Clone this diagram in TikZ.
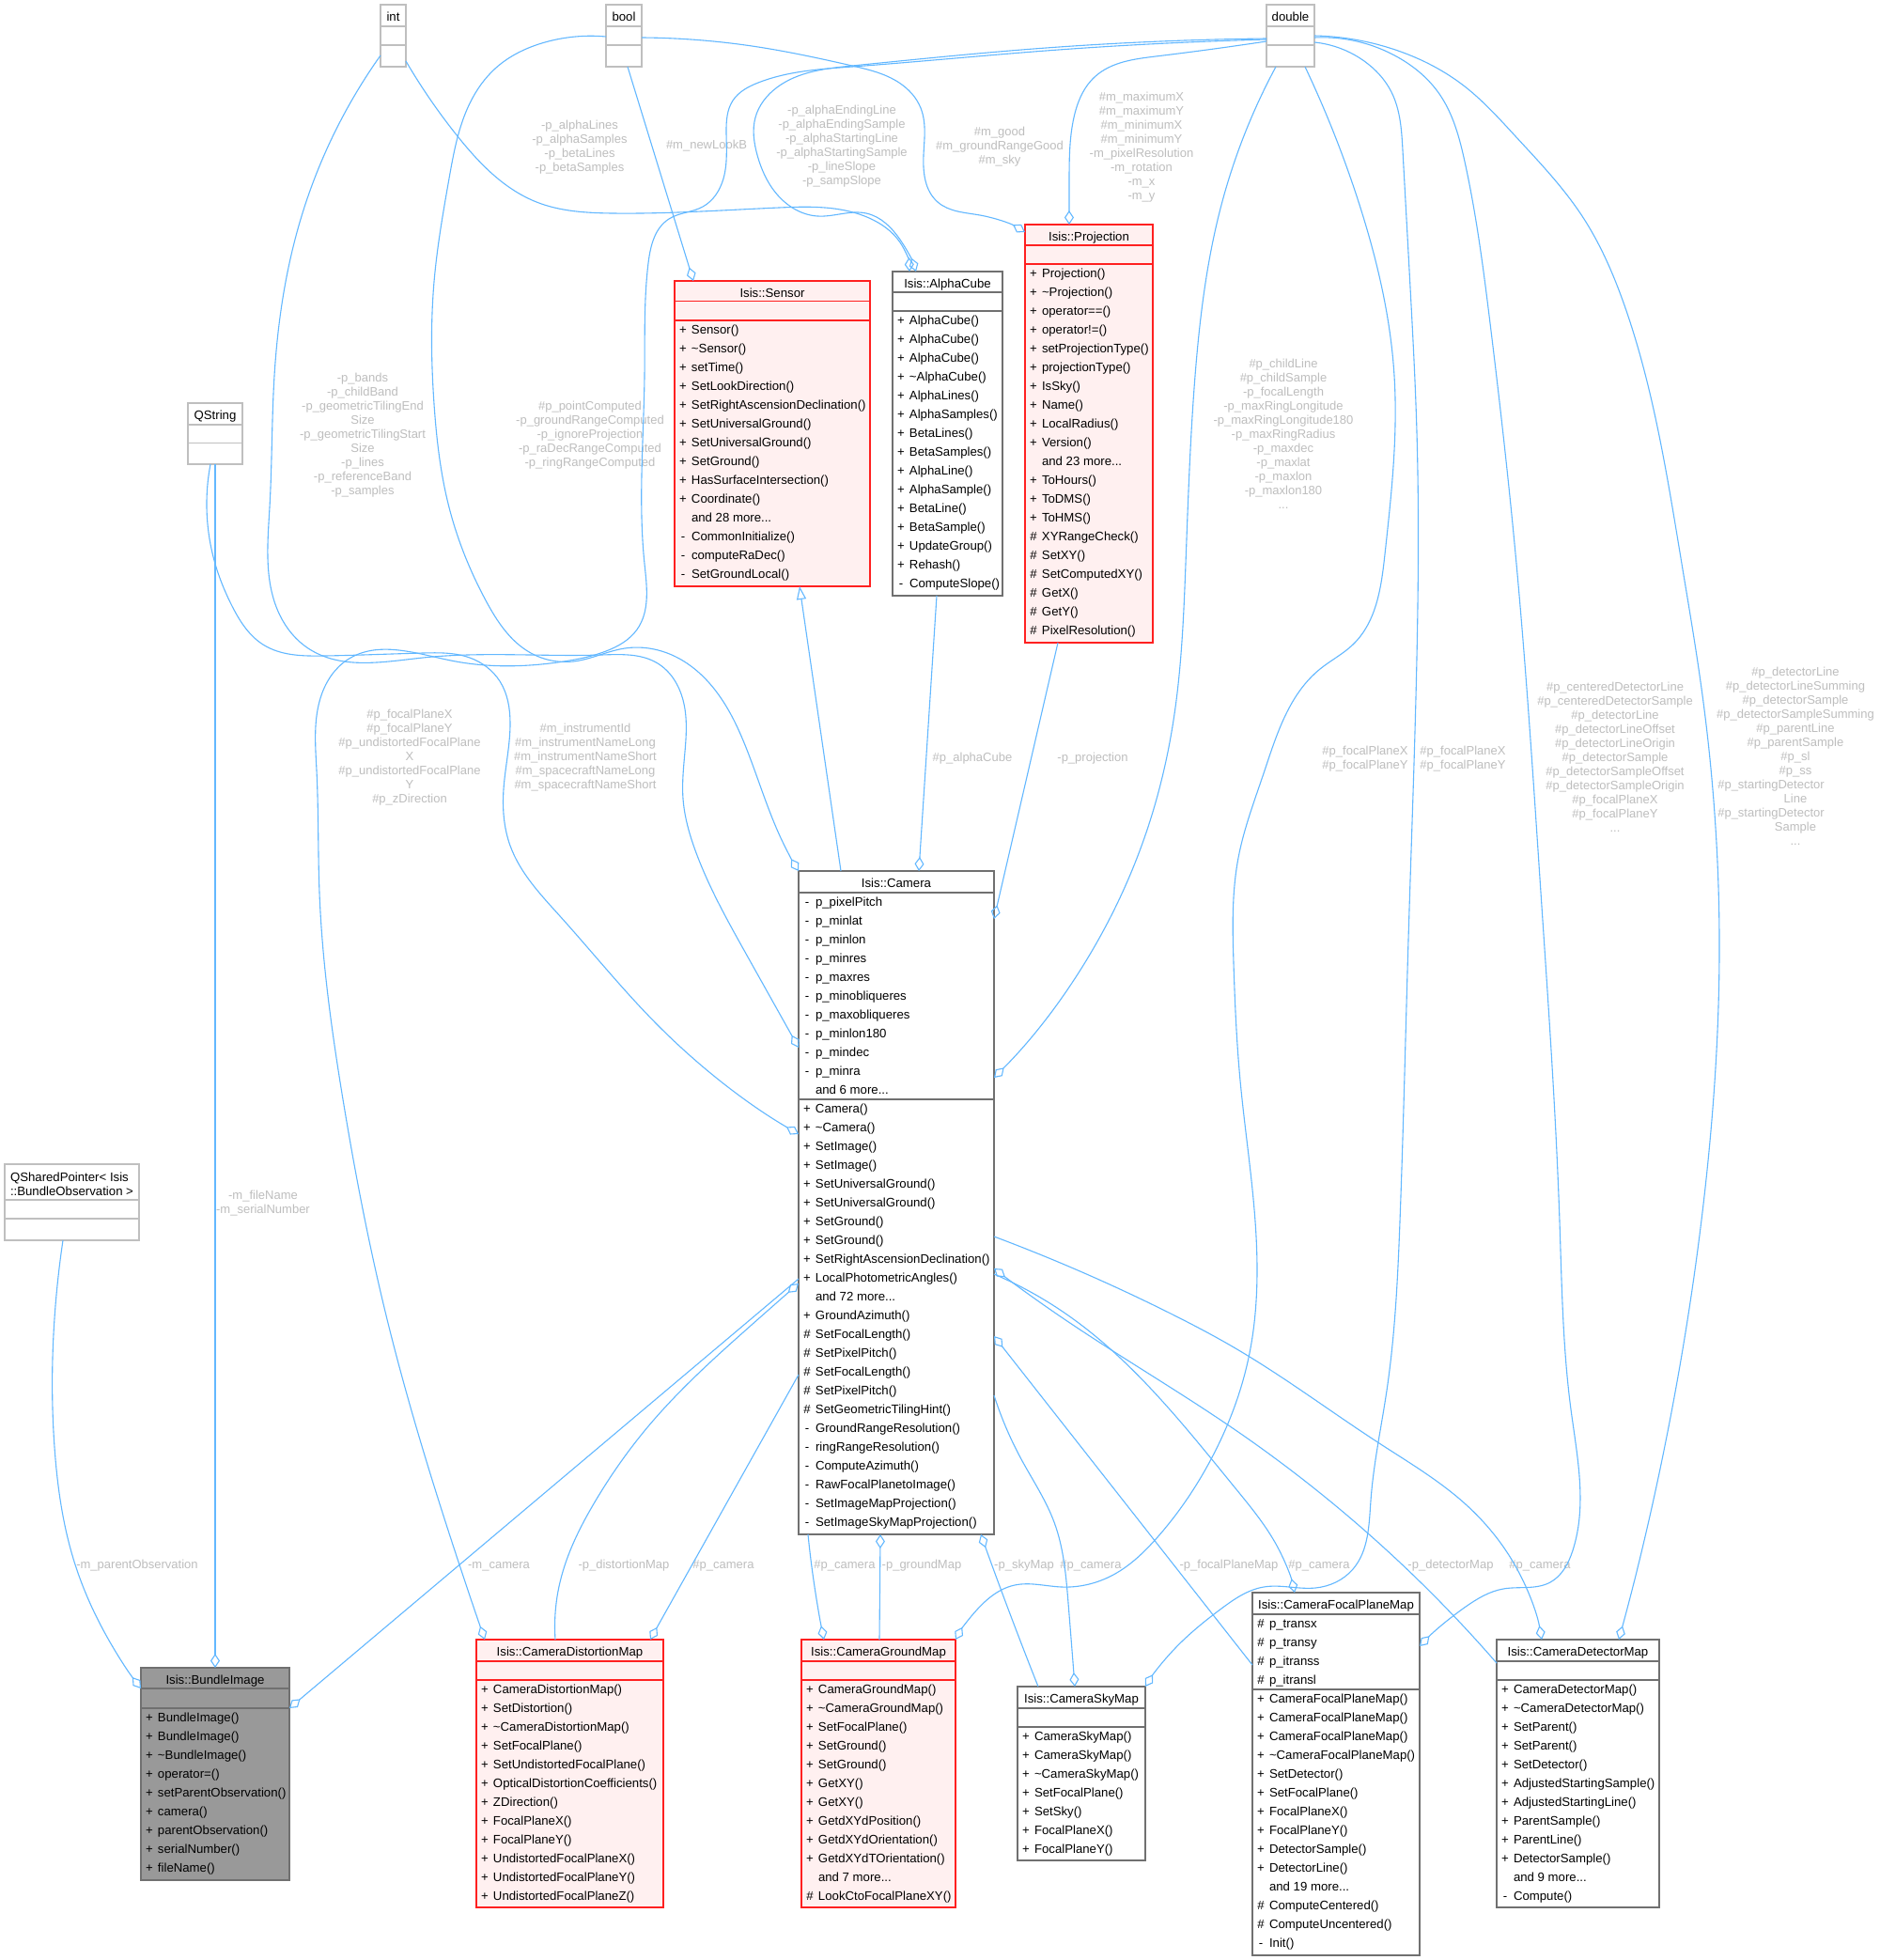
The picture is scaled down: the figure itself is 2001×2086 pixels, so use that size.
\documentclass[tikz,border=0pt]{standalone}
\usepackage{fontspec}
\setmainfont{Liberation Sans}
\usetikzlibrary{arrows.meta,hobby}
\definecolor{edgeblue}{HTML}{63B8FF}
\definecolor{lblgray}{HTML}{BEBEBE}
\definecolor{undocgray}{HTML}{BFBFBF}
\definecolor{docgray}{HTML}{707070}
\definecolor{truncred}{HTML}{FF2020}
\definecolor{truncfill}{HTML}{FFF0F0}
\definecolor{focusfill}{HTML}{999999}
\renewcommand{\arraystretch}{0}
\newcommand{\boxfont}{\fontsize{13.2}{20}\selectfont}
\newcommand{\labfont}{\fontsize{13}{15}\selectfont}
\newcommand{\mrow}[2]{\makebox[18pt][c]{#1}#2\rule[-5.6pt]{0pt}{20pt}\\}
\newcommand{\lline}[1]{#1\rule[-4pt]{0pt}{15pt}\\}
\tikzset{
  boxbase/.style={draw, rectangle, line width=1.2pt, inner sep=0pt, outer sep=0pt},
  undoc/.style={boxbase, draw=undocgray, fill=white},
  undoc sep/.style={draw=undocgray, line width=1.2pt},
  doc/.style={boxbase, draw=docgray, fill=white},
  doc sep/.style={draw=docgray, line width=1.2pt},
  trunc/.style={boxbase, draw=truncred, fill=truncfill},
  trunc sep/.style={draw=truncred, line width=1.2pt},
  focusbox/.style={boxbase, draw=docgray, fill=focusfill},
  focusbox sep/.style={draw=docgray, line width=1.2pt},
  hdr/.style={anchor=base, inner sep=0pt, outer sep=0pt, font=\boxfont},
  rows/.style={anchor=north west, inner sep=0pt, outer sep=0pt, font=\boxfont},
  lbl/.style={anchor=north, inner sep=0pt, outer sep=0pt, font=\labfont, text=lblgray},
  link/.style={draw=edgeblue, line width=1.1pt},
  agg/.style={link, -{Diamond[open, length=15pt, width=10pt]}},
  inh/.style={link, -{Triangle[open, length=14pt, width=10pt]}},
  hob/.style={use Hobby shortcut},
}
% #1 name #2 style #3 left #4 top #5 right #6 bottom #7 header bottom #8 attr bottom #9 header
\newcommand{\umlbox}[9]{%
  \node[#2, anchor=north west, minimum width={(#5-#3)*1pt}, minimum height={(#6-#4)*1pt}] (#1) at (#3,#4) {};
  \draw[#2 sep] (#1.west |- 0,#7) -- (#1.east |- 0,#7);
  \draw[#2 sep] (#1.west |- 0,#8) -- (#1.east |- 0,#8);
  \node[hdr] (#1-h) at ({(#3+#5)/2},{(#4+#7)/2+6.3}) {#9};
}
\newcommand{\rowsat}[4]{\node[rows] (#1) at (#2,#3) {\begin{tabular}{@{}l@{}}#4\end{tabular}};}
\newcommand{\elab}[4]{\node[lbl] (#1) at (#2,{#3-7}) {\begin{tabular}{@{}c@{}}#4\end{tabular}};}

\begin{document}
\begin{tikzpicture}[x=1pt,y=-1pt]
\useasboundingbox (0,0) rectangle (2001,2086);
\fill[white] (0,0) rectangle (2001,2086);

% ---------------- boxes ----------------
\umlbox{int}{undoc}{405}{5}{432}{71}{28}{48}{int}
\umlbox{bool}{undoc}{645}{5}{683}{71}{28}{48}{bool}
\umlbox{double}{undoc}{1348}{5}{1399}{71}{28}{48}{double}
\umlbox{qs}{undoc}{200}{429}{258}{494}{452}{471.5}{QString}
\umlbox{qsp}{undoc}{5}{1239}{148}{1320}{1277}{1297}{}
\node[rows] (qsp-h) at (11,1246) {\begin{tabular}{@{}l@{}}\lline{QSharedPointer< Isis}\lline{::BundleObservation >}\end{tabular}};

\umlbox{sensor}{trunc}{718}{299}{926}{624}{320.5}{341}{Isis::Sensor}
\rowsat{sensor-ops}{718}{341}{%
\mrow{+}{Sensor()}
\mrow{+}{\textasciitilde Sensor()}
\mrow{+}{setTime()}
\mrow{+}{SetLookDirection()}
\mrow{+}{SetRightAscensionDeclination()}
\mrow{+}{SetUniversalGround()}
\mrow{+}{SetUniversalGround()}
\mrow{+}{SetGround()}
\mrow{+}{HasSurfaceIntersection()}
\mrow{+}{Coordinate()}
\mrow{}{and 28 more...}
\mrow{-}{CommonInitialize()}
\mrow{-}{computeRaDec()}
\mrow{-}{SetGroundLocal()}}

\umlbox{alpha}{doc}{950}{289}{1067}{634}{311}{331}{Isis::AlphaCube}
\rowsat{alpha-ops}{950}{331}{%
\mrow{+}{AlphaCube()}
\mrow{+}{AlphaCube()}
\mrow{+}{AlphaCube()}
\mrow{+}{\textasciitilde AlphaCube()}
\mrow{+}{AlphaLines()}
\mrow{+}{AlphaSamples()}
\mrow{+}{BetaLines()}
\mrow{+}{BetaSamples()}
\mrow{+}{AlphaLine()}
\mrow{+}{AlphaSample()}
\mrow{+}{BetaLine()}
\mrow{+}{BetaSample()}
\mrow{+}{UpdateGroup()}
\mrow{+}{Rehash()}
\mrow{-}{ComputeSlope()}}

\umlbox{proj}{trunc}{1091}{239}{1227}{684}{261}{281}{Isis::Projection}
\rowsat{proj-ops}{1091}{281}{%
\mrow{+}{Projection()}
\mrow{+}{\textasciitilde Projection()}
\mrow{+}{operator==()}
\mrow{+}{operator!=()}
\mrow{+}{setProjectionType()}
\mrow{+}{projectionType()}
\mrow{+}{IsSky()}
\mrow{+}{Name()}
\mrow{+}{LocalRadius()}
\mrow{+}{Version()}
\mrow{}{and 23 more...}
\mrow{+}{ToHours()}
\mrow{+}{ToDMS()}
\mrow{+}{ToHMS()}
\mrow{\#}{XYRangeCheck()}
\mrow{\#}{SetXY()}
\mrow{\#}{SetComputedXY()}
\mrow{\#}{GetX()}
\mrow{\#}{GetY()}
\mrow{\#}{PixelResolution()}}

\umlbox{cam}{doc}{850}{927}{1058}{1633}{950}{1170}{Isis::Camera}
\rowsat{cam-attrs}{850}{950}{%
\mrow{-}{p\_pixelPitch}
\mrow{-}{p\_minlat}
\mrow{-}{p\_minlon}
\mrow{-}{p\_minres}
\mrow{-}{p\_maxres}
\mrow{-}{p\_minobliqueres}
\mrow{-}{p\_maxobliqueres}
\mrow{-}{p\_minlon180}
\mrow{-}{p\_mindec}
\mrow{-}{p\_minra}
\mrow{}{and 6 more...}}
\rowsat{cam-ops}{850}{1170}{%
\mrow{+}{Camera()}
\mrow{+}{\textasciitilde Camera()}
\mrow{+}{SetImage()}
\mrow{+}{SetImage()}
\mrow{+}{SetUniversalGround()}
\mrow{+}{SetUniversalGround()}
\mrow{+}{SetGround()}
\mrow{+}{SetGround()}
\mrow{+}{SetRightAscensionDeclination()}
\mrow{+}{LocalPhotometricAngles()}
\mrow{}{and 72 more...}
\mrow{+}{GroundAzimuth()}
\mrow{\#}{SetFocalLength()}
\mrow{\#}{SetPixelPitch()}
\mrow{\#}{SetFocalLength()}
\mrow{\#}{SetPixelPitch()}
\mrow{\#}{SetGeometricTilingHint()}
\mrow{-}{GroundRangeResolution()}
\mrow{-}{ringRangeResolution()}
\mrow{-}{ComputeAzimuth()}
\mrow{-}{RawFocalPlanetoImage()}
\mrow{-}{SetImageMapProjection()}
\mrow{-}{SetImageSkyMapProjection()}}

\umlbox{bi}{focusbox}{150}{1775}{308}{2001}{1797}{1818}{Isis::BundleImage}
\rowsat{bi-ops}{150}{1818}{%
\mrow{+}{BundleImage()}
\mrow{+}{BundleImage()}
\mrow{+}{\textasciitilde BundleImage()}
\mrow{+}{operator=()}
\mrow{+}{setParentObservation()}
\mrow{+}{camera()}
\mrow{+}{parentObservation()}
\mrow{+}{serialNumber()}
\mrow{+}{fileName()}}

\umlbox{dist}{trunc}{507}{1745}{706}{2030}{1768}{1788}{Isis::CameraDistortionMap}
\rowsat{dist-ops}{507}{1788}{%
\mrow{+}{CameraDistortionMap()}
\mrow{+}{SetDistortion()}
\mrow{+}{\textasciitilde CameraDistortionMap()}
\mrow{+}{SetFocalPlane()}
\mrow{+}{SetUndistortedFocalPlane()}
\mrow{+}{OpticalDistortionCoefficients()}
\mrow{+}{ZDirection()}
\mrow{+}{FocalPlaneX()}
\mrow{+}{FocalPlaneY()}
\mrow{+}{UndistortedFocalPlaneX()}
\mrow{+}{UndistortedFocalPlaneY()}
\mrow{+}{UndistortedFocalPlaneZ()}}

\umlbox{ground}{trunc}{853}{1745}{1017}{2030}{1768}{1788}{Isis::CameraGroundMap}
\rowsat{ground-ops}{853}{1788}{%
\mrow{+}{CameraGroundMap()}
\mrow{+}{\textasciitilde CameraGroundMap()}
\mrow{+}{SetFocalPlane()}
\mrow{+}{SetGround()}
\mrow{+}{SetGround()}
\mrow{+}{GetXY()}
\mrow{+}{GetXY()}
\mrow{+}{GetdXYdPosition()}
\mrow{+}{GetdXYdOrientation()}
\mrow{+}{GetdXYdTOrientation()}
\mrow{}{and 7 more...}
\mrow{\#}{LookCtoFocalPlaneXY()}}

\umlbox{sky}{doc}{1083}{1795}{1219}{1980}{1818}{1838}{Isis::CameraSkyMap}
\rowsat{sky-ops}{1083}{1838}{%
\mrow{+}{CameraSkyMap()}
\mrow{+}{CameraSkyMap()}
\mrow{+}{\textasciitilde CameraSkyMap()}
\mrow{+}{SetFocalPlane()}
\mrow{+}{SetSky()}
\mrow{+}{FocalPlaneX()}
\mrow{+}{FocalPlaneY()}}

\umlbox{fpm}{doc}{1333}{1695}{1511}{2081}{1718}{1798}{Isis::CameraFocalPlaneMap}
\rowsat{fpm-attrs}{1333}{1718}{%
\mrow{\#}{p\_transx}
\mrow{\#}{p\_transy}
\mrow{\#}{p\_itranss}
\mrow{\#}{p\_itransl}}
\rowsat{fpm-ops}{1333}{1798}{%
\mrow{+}{CameraFocalPlaneMap()}
\mrow{+}{CameraFocalPlaneMap()}
\mrow{+}{CameraFocalPlaneMap()}
\mrow{+}{\textasciitilde CameraFocalPlaneMap()}
\mrow{+}{SetDetector()}
\mrow{+}{SetFocalPlane()}
\mrow{+}{FocalPlaneX()}
\mrow{+}{FocalPlaneY()}
\mrow{+}{DetectorSample()}
\mrow{+}{DetectorLine()}
\mrow{}{and 19 more...}
\mrow{\#}{ComputeCentered()}
\mrow{\#}{ComputeUncentered()}
\mrow{-}{Init()}}

\umlbox{dm}{doc}{1593}{1745}{1766}{2030}{1768}{1788}{Isis::CameraDetectorMap}
\rowsat{dm-ops}{1593}{1788}{%
\mrow{+}{CameraDetectorMap()}
\mrow{+}{\textasciitilde CameraDetectorMap()}
\mrow{+}{SetParent()}
\mrow{+}{SetParent()}
\mrow{+}{SetDetector()}
\mrow{+}{AdjustedStartingSample()}
\mrow{+}{AdjustedStartingLine()}
\mrow{+}{ParentSample()}
\mrow{+}{ParentLine()}
\mrow{+}{DetectorSample()}
\mrow{}{and 9 more...}
\mrow{-}{Compute()}}

% ---------------- labels ----------------
\elab{l-alphalines}{617}{133}{\lline{-p\_alphaLines}\lline{-p\_alphaSamples}\lline{-p\_betaLines}\lline{-p\_betaSamples}}
\elab{l-newlook}{752}{154}{\lline{\#m\_newLookB}}
\elab{l-alphaend}{896}{117}{\lline{-p\_alphaEndingLine}\lline{-p\_alphaEndingSample}\lline{-p\_alphaStartingLine}\lline{-p\_alphaStartingSample}\lline{-p\_lineSlope}\lline{-p\_sampSlope}}
\elab{l-good}{1064}{140}{\lline{\#m\_good}\lline{\#m\_groundRangeGood}\lline{\#m\_sky}}
\elab{l-maxx}{1215}{103}{\lline{\#m\_maximumX}\lline{\#m\_maximumY}\lline{\#m\_minimumX}\lline{\#m\_minimumY}\lline{-m\_pixelResolution}\lline{-m\_rotation}\lline{-m\_x}\lline{-m\_y}}
\elab{l-childline}{1366}{387}{\lline{\#p\_childLine}\lline{\#p\_childSample}\lline{-p\_focalLength}\lline{-p\_maxRingLongitude}\lline{-p\_maxRingLongitude180}\lline{-p\_maxRingRadius}\lline{-p\_maxdec}\lline{-p\_maxlat}\lline{-p\_maxlon}\lline{-p\_maxlon180}\lline{...}}
\elab{l-bands}{386}{402}{\lline{-p\_bands}\lline{-p\_childBand}\lline{-p\_geometricTilingEnd}\lline{Size}\lline{-p\_geometricTilingStart}\lline{Size}\lline{-p\_lines}\lline{-p\_referenceBand}\lline{-p\_samples}}
\elab{l-pointcomp}{628}{432}{\lline{\#p\_pointComputed}\lline{-p\_groundRangeComputed}\lline{-p\_ignoreProjection}\lline{-p\_raDecRangeComputed}\lline{-p\_ringRangeComputed}}
\elab{l-focaldist}{436}{760}{\lline{\#p\_focalPlaneX}\lline{\#p\_focalPlaneY}\lline{\#p\_undistortedFocalPlane}\lline{X}\lline{\#p\_undistortedFocalPlane}\lline{Y}\lline{\#p\_zDirection}}
\elab{l-instr}{623}{775}{\lline{\#m\_instrumentId}\lline{\#m\_instrumentNameLong}\lline{\#m\_instrumentNameShort}\lline{\#m\_spacecraftNameLong}\lline{\#m\_spacecraftNameShort}}
\elab{l-alphacube}{1035}{806}{\lline{\#p\_alphaCube}}
\elab{l-projection}{1163}{806}{\lline{-p\_projection}}
\elab{l-fpground}{1453}{799}{\lline{\#p\_focalPlaneX}\lline{\#p\_focalPlaneY}}
\elab{l-fpsky}{1557}{799}{\lline{\#p\_focalPlaneX}\lline{\#p\_focalPlaneY}}
\elab{l-centered}{1719}{731}{\lline{\#p\_centeredDetectorLine}\lline{\#p\_centeredDetectorSample}\lline{\#p\_detectorLine}\lline{\#p\_detectorLineOffset}\lline{\#p\_detectorLineOrigin}\lline{\#p\_detectorSample}\lline{\#p\_detectorSampleOffset}\lline{\#p\_detectorSampleOrigin}\lline{\#p\_focalPlaneX}\lline{\#p\_focalPlaneY}\lline{...}}
\elab{l-detline}{1911}{715}{\lline{\#p\_detectorLine}\lline{\#p\_detectorLineSumming}\lline{\#p\_detectorSample}\lline{\#p\_detectorSampleSumming}\lline{\#p\_parentLine}\lline{\#p\_parentSample}\lline{\#p\_sl}\lline{\#p\_ss}\lline{\#p\_startingDetector\hspace*{52pt}}\lline{Line}\lline{\#p\_startingDetector\hspace*{52pt}}\lline{Sample}\lline{...}}
\elab{l-filename}{280}{1272}{\lline{-m\_fileName}\lline{-m\_serialNumber}}
\elab{l-parentobs}{146}{1665}{\lline{-m\_parentObservation}}
\elab{l-mcamera}{531}{1665}{\lline{-m\_camera}}
\elab{l-distmap}{664}{1665}{\lline{-p\_distortionMap}}
\elab{l-pcamdist}{770}{1665}{\lline{\#p\_camera}}
\elab{l-pcamground}{899}{1665}{\lline{\#p\_camera}}
\elab{l-groundmap}{981}{1665}{\lline{-p\_groundMap}}
\elab{l-skymap}{1090}{1665}{\lline{-p\_skyMap}}
\elab{l-pcamsky}{1161}{1665}{\lline{\#p\_camera}}
\elab{l-fpmap}{1308}{1665}{\lline{-p\_focalPlaneMap}}
\elab{l-pcamfpm}{1404}{1665}{\lline{\#p\_camera}}
\elab{l-detmap}{1544}{1665}{\lline{-p\_detectorMap}}
\elab{l-pcamdm}{1639}{1665}{\lline{\#p\_camera}}

% ---------------- edges ----------------
% int -> AlphaCube
\draw[agg, hob] (int.east |- 0,65) .. (487,145) .. (571,215) .. (652,227) .. (829,221) .. (925,232) .. (958,258) .. (alpha.north -| 968,0);
% double -> AlphaCube
\draw[agg, hob] (double.west |- 0,41) .. (1100,52) .. (907,70) .. (827,93) .. (804,125) .. (806,165) .. (828,208) .. (870,230) .. (922,227) .. (958,255) .. (alpha.north -| 975,0);
% double -> CameraDistortionMap
\draw[agg, hob] (double.west |- 0,42) .. (1100,55) .. (907,71) .. (807,88) .. (780,107) .. (773,140) .. (770,190) .. (748,220) .. (712,233) .. (690,280) .. (686,400) .. (686,600) .. (678,670) .. (645,693) .. (600,704) .. (480,703) .. (370,702) .. (342,740) .. (337,820) .. (340,950) .. (365,1170) .. (411,1400) .. (481,1641) .. (dist.north -| 516,0);
% int -> Camera
\draw[agg, hob] (int.west |- 0,59) .. (321,230) .. (292,400) .. (287,540) .. (298,655) .. (328,690) .. (450,700) .. (640,697) .. (700,706) .. (727,745) .. (729,800) .. (727,850) .. (740,905) .. (794,1015) .. (cam.west |- 0,1115);
% bool -> Camera
\draw[agg, hob] (bool.west |- 0,39) .. (580,45) .. (527,73) .. (500,110) .. (478,190) .. (462,300) .. (462,430) .. (478,540) .. (517,639) .. (565,695) .. (610,704) .. (665,690) .. (715,697) .. (755,727) .. (795,798) .. (833,896) .. (cam.north west);
% QString -> Camera
\draw[agg, hob] (qs.south -| 224,0) .. (229,600) .. (247,645) .. (280,686) .. (345,698) .. (450,695) .. (500,700) .. (532,725) .. (543,770) .. (536,840) .. (543,900) .. (596,975) .. (700,1091) .. (cam.west |- 0,1207);
% bool -> Sensor
\draw[agg] (bool.south -| 668,0) -- (sensor.north -| 738,0);
% bool -> Projection
\draw[agg, hob] (bool.east |- 0,40) .. (807,50) .. (907,70) .. (957,88) .. (980,115) .. (983,165) .. (998,215) .. (1043,229) .. (proj.west |- 0,247);
% double -> Projection
\draw[agg, hob] (double.west |- 0,44) .. (1230,60) .. (1165,82) .. (1143,125) .. (1138,190) .. (proj.north -| 1138,0);
% double -> Camera
\draw[agg, hob] (double.south -| 1358,0) .. (1300,218) .. (1272,400) .. (1262,600) .. (1250,760) .. (1222,880) .. (1186,968) .. (cam.east |- 0,1147);
% Projection -> Camera
\draw[agg] (proj.south -| 1126,0) -- (cam.east |- 0,978);
% AlphaCube -> Camera
\draw[agg] (alpha.south -| 997,0) -- (cam.north -| 978,0);
% Camera inherits Sensor
\draw[inh] (cam.north -| 895,0) -- (sensor.south -| 851,0);
% QString -> BundleImage
\draw[agg] (qs.south -| 229,0) -- (bi.north -| 229,0);
% QSharedPointer -> BundleImage
\draw[agg, hob] (qsp.south -| 67,0) .. (57,1420) .. (58,1540) .. (79,1662) .. (110,1735) .. (bi.west |- 0,1797);
% Camera -> BundleImage
\draw[agg] (cam.west |- 0,1361) -- (bi.east |- 0,1818);
% CameraDistortionMap -> Camera
\draw[agg, hob] (dist.north -| 591,0) .. (596,1684) .. (634,1597) .. (690,1518) .. (800,1410) .. (cam.west |- 0,1366);
% Camera -> CameraDistortionMap
\draw[agg] (cam.west |- 0,1463) -- (dist.north -| 692,0);
% Camera -> CameraGroundMap
\draw[agg, hob] (cam.south -| 860,0) .. (865,1675) .. (ground.north -| 877,0);
% CameraGroundMap -> Camera
\draw[agg] (ground.north -| 936,0) -- (cam.south -| 937,0);
% CameraSkyMap -> Camera
\draw[agg, hob] (sky.north -| 1105,0) .. (1061,1680) .. (cam.south -| 1044,0);
% Camera -> CameraSkyMap
\draw[agg, hob] (cam.east |- 0,1485) .. (1087,1553) .. (1122,1620) .. (1137,1706) .. (sky.north -| 1144,0);
% double -> CameraGroundMap
\draw[agg, hob] (double.south -| 1389,0) .. (1447,218) .. (1484,400) .. (1474,590) .. (1440,686) .. (1405,712) .. (1345,823) .. (1318,913) .. (1313,1025) .. (1320,1150) .. (1336,1300) .. (1330,1440) .. (1289,1553) .. (1232,1636) .. (1185,1676) .. (1130,1689) .. (1080,1687) .. (1040,1713) .. (ground.north east);
% double -> CameraSkyMap
\draw[agg, hob] (double.east |- 0,45) .. (1452,65) .. (1481,98) .. (1493,160) .. (1501,306) .. (1508,460) .. (1508,700) .. (1499,1000) .. (1490,1300) .. (1476,1480) .. (1459,1597) .. (1440,1670) .. (1400,1690) .. (1345,1689) .. (1300,1712) .. (1250,1755) .. (sky.north east);
% double -> CameraFocalPlaneMap
\draw[agg, hob] (double.east |- 0,40) .. (1488,61) .. (1532,100) .. (1559,172) .. (1586,344) .. (1614,600) .. (1640,950) .. (1660,1300) .. (1672,1500) .. (1674,1650) .. (1650,1684) .. (1600,1691) .. (1560,1710) .. (fpm.east |- 0,1752);
% double -> CameraDetectorMap
\draw[agg, hob] (double.east |- 0,38) .. (1488,54) .. (1559,92) .. (1613,145) .. (1684,230) .. (1729,325) .. (1765,459) .. (1790,600) .. (1812,740) .. (1830,1000) .. (1812,1290) .. (1792,1430) .. (dm.north -| 1723,0);
% Camera -> CameraFocalPlaneMap
\draw[agg, hob] (cam.east |- 0,1356) .. (1137,1400) .. (1315,1584) .. (1359,1645) .. (fpm.north -| 1378,0);
% CameraFocalPlaneMap -> Camera
\draw[agg] (fpm.west |- 0,1772) -- (cam.east |- 0,1422);
% CameraDetectorMap -> Camera
\draw[agg, hob] (dm.west |- 0,1770) .. (1534,1706) .. (1315,1522) .. (1127,1400) .. (cam.east |- 0,1350);
% Camera -> CameraDetectorMap
\draw[agg, hob] (cam.east |- 0,1316) .. (1250,1400) .. (1315,1435) .. (1468,1536) .. (1560,1601) .. (1612,1665) .. (dm.north -| 1641,0);
\end{tikzpicture}
\end{document}
